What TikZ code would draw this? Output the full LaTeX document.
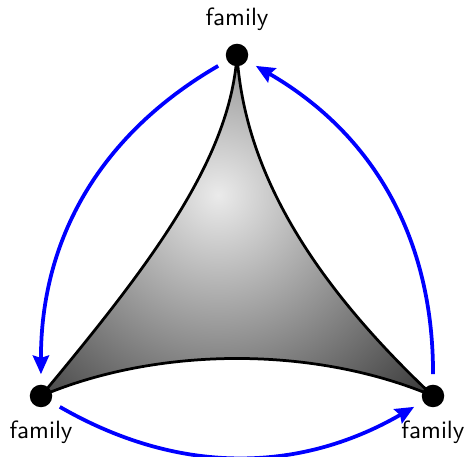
\documentclass[tikz,border=0pt]{standalone}
\usetikzlibrary{arrows.meta,positioning}

\begin{document}
\begin{tikzpicture}[font=\sffamily, x=0.4pt, y=0.4pt,
    dot/.style={circle, fill=black, inner sep=0pt, minimum size=9pt},
    flow/.style={-{Stealth[length=7.5pt, width=6.5pt, inset=1pt]}, blue, line width=1.5pt, shorten <=4pt, shorten >=4pt},
    rim/.style={line width=1.1pt, line join=round}]
  \useasboundingbox (0,0) rectangle (468,457);
  % corners
  \coordinate (vtop) at (237,402);
  \coordinate (vleft) at (41,61);
  \coordinate (vright) at (433,61);
  \coordinate (light) at (218,262);
  % shaded curved triangle
  \draw[rim, path picture={\shade[inner color=black!8, outer color=black!80] (light) circle (300);}]
    (vtop) .. controls (230,297) and (150,192) .. (vleft)
    .. controls (159,111) and (315,111) .. (vright)
    .. controls (299,187) and (244,297) .. (vtop) -- cycle;
  % dots and labels
  \node[dot] (famtop) at (vtop) {};
  \node[dot] (famleft) at (vleft) {};
  \node[dot] (famright) at (vright) {};
  \node[above=1.4pt of famtop] (toplabel) {family};
  \node[below=1.6pt of famleft] (leftlabel) {family};
  \node[below=1.6pt of famright] (rightlabel) {family};
  % arrows round the triangle
  \draw[flow] (famtop) to[bend right=30] (famleft);
  \draw[flow] (famleft) to[bend right=30] (famright);
  \draw[flow] (famright) to[bend right=30] (famtop);
\end{tikzpicture}
\end{document}
